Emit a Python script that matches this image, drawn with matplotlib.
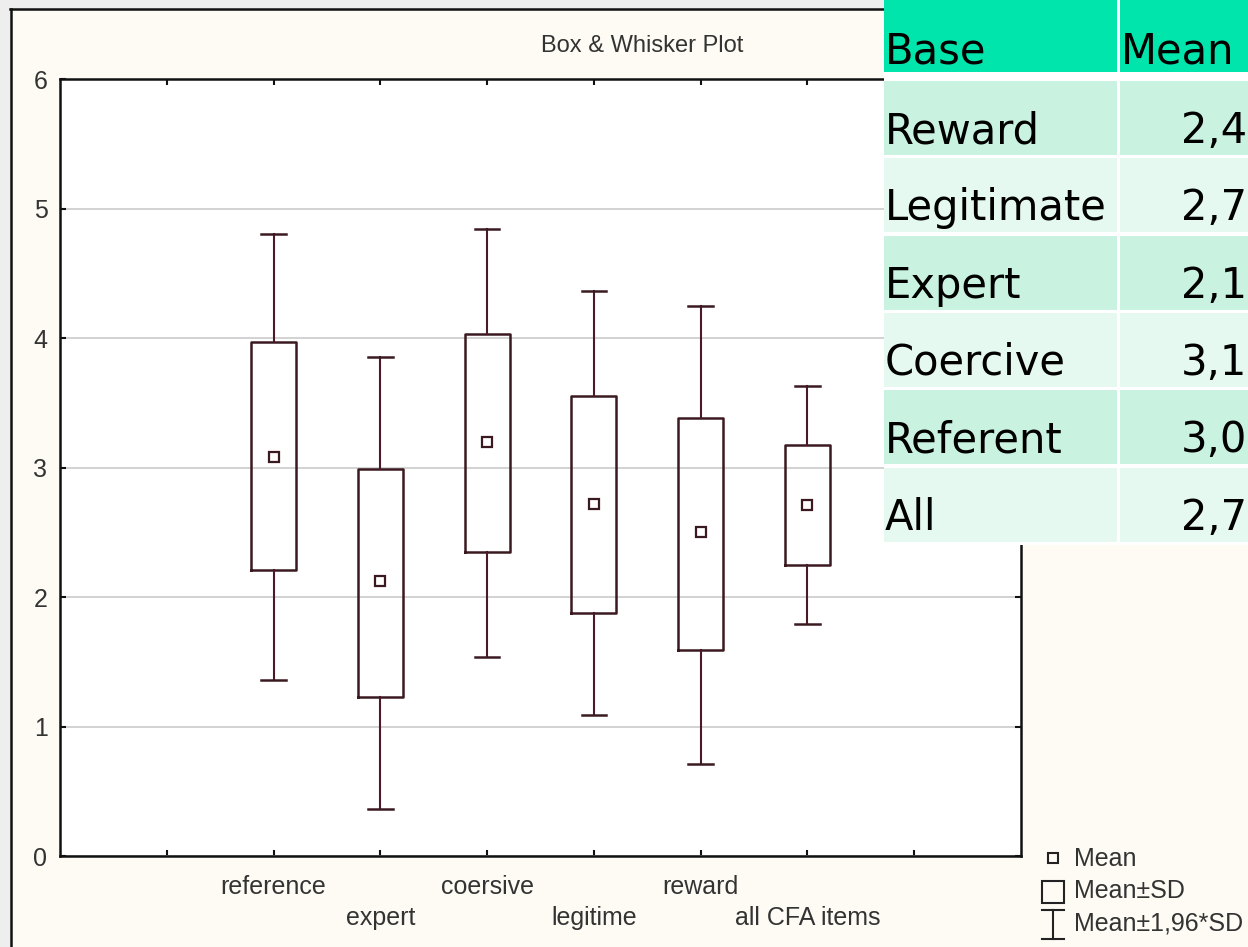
import matplotlib.pyplot as plt
from matplotlib.patches import Rectangle

# ---- data ----
groups = ['reference', 'expert', 'coersive', 'legitime', 'reward', 'all CFA items']
means = [3.08, 2.12, 3.20, 2.72, 2.50, 2.71]
sd_lo = [2.21, 1.23, 2.35, 1.88, 1.59, 2.25]
sd_hi = [3.97, 2.99, 4.03, 3.55, 3.38, 3.17]
ci_lo = [1.36, 0.36, 1.54, 1.09, 0.71, 1.79]
ci_hi = [4.80, 3.85, 4.84, 4.36, 4.25, 3.63]

table_base = ['Reward', 'Legitimate', 'Expert', 'Coercive', 'Referent', 'All']
table_mean = ['2,4', '2,7', '2,1', '3,1', '3,0', '2,7']
legend_txt = ['Mean', 'Mean\u00b1SD', 'Mean\u00b11,96*SD']

W, H = 1248, 947
line_c = '#3a1a20'
txt_c = '#333333'
font = 'Liberation Sans'

fig = plt.figure(figsize=(W / 100, H / 100), dpi=100, facecolor='#eeeeee')

# background / window frame
bg = fig.add_axes([0, 0, 1, 1], zorder=0)
bg.set_xlim(0, W)
bg.set_ylim(H, 0)
bg.axis('off')
bg.add_patch(Rectangle((11, 9), W - 11, H - 9, facecolor='#fdfbf3', edgecolor='none'))
bg.plot([10, W], [9, 9], color='#111111', lw=1.8)
bg.plot([11, 11], [9, H], color='#111111', lw=1.8)
bg.text(642, 46, 'Box & Whisker Plot', ha='center', va='center',
        fontsize=17, color=txt_c, family=font)

# ---- main plot ----
ax = fig.add_axes([60 / W, 1 - 856 / H, 961 / W, 777 / H], zorder=1)
ax.set_facecolor('white')

stats = []
for g, m, lo, hi, wl, wh in zip(groups, means, sd_lo, sd_hi, ci_lo, ci_hi):
    stats.append(dict(label=g, mean=m, med=m, q1=lo, q3=hi, whislo=wl, whishi=wh))

ax.bxp(stats, positions=range(2, 8), widths=0.42, capwidths=0.23,
       showmeans=True, showfliers=False,
       boxprops=dict(color=line_c, linewidth=1.8),
       whiskerprops=dict(color='#4a1a26', linewidth=1.5),
       capprops=dict(color=line_c, linewidth=1.8),
       medianprops=dict(visible=False),
       meanprops=dict(marker='s', markersize=7, markerfacecolor='white',
                      markeredgecolor=line_c, markeredgewidth=1.6))

ax.set_xlim(0, 9)
ax.set_ylim(0, 6)
ax.set_xticks(range(1, 9))
xlabels = [''] + [g if i % 2 == 0 else '\n' + g for i, g in enumerate(groups)] + ['']
ax.set_xticklabels(xlabels, fontsize=18, color=txt_c, family=font, linespacing=1.35)
ax.set_yticks(range(0, 7))
ax.set_yticklabels([str(v) for v in range(0, 7)], fontsize=18, color=txt_c, family=font)
ax.tick_params(axis='both', direction='in', length=4, width=1.5, color='#111111',
               top=True, right=True)
ax.tick_params(axis='x', pad=14)
ax.tick_params(axis='y', pad=9)
ax.yaxis.grid(True, color='#cfcfcf', linewidth=1.3)
ax.set_axisbelow(True)
for s in ax.spines.values():
    s.set_linewidth(1.8)
    s.set_color('#111111')

# ---- overlay: legend + table ----
top = fig.add_axes([0, 0, 1, 1], zorder=2)
top.set_xlim(0, W)
top.set_ylim(H, 0)
top.axis('off')
top.patch.set_alpha(0)

# legend
top.plot(1053, 858, 's', ms=7, mfc='none', mec='#222222', mew=1.5)
top.add_patch(Rectangle((1042, 881), 22, 22, facecolor='none', edgecolor='#222222', lw=1.5))
top.plot([1053, 1053], [910, 939], color='#222222', lw=1.5)
top.plot([1042, 1064], [910, 910], color='#222222', lw=1.5)
top.plot([1042, 1064], [939, 939], color='#222222', lw=1.5)
for yy, t in zip([859, 891, 923], legend_txt):
    top.text(1074, yy, t, ha='left', va='center', fontsize=18, color=txt_c, family=font)

# table
top.add_patch(Rectangle((884, 0), W - 884, 545, facecolor='white', edgecolor='none'))
top.add_patch(Rectangle((884, 0), 233, 72, facecolor='#00e5ab', edgecolor='none'))
top.add_patch(Rectangle((1120, 0), W - 1120, 72, facecolor='#00e5ab', edgecolor='none'))
top.text(885, 63, 'Base', ha='left', va='baseline', fontsize=30, color='black')
top.text(1121, 63, 'Mean', ha='left', va='baseline', fontsize=30, color='black')
for i, (b, m) in enumerate(zip(table_base, table_mean)):
    y0 = 81 + 77.3 * i
    fc = '#c9f3e0' if i % 2 == 0 else '#e6f9f0'
    top.add_patch(Rectangle((884, y0), 233, 74, facecolor=fc, edgecolor='none'))
    top.add_patch(Rectangle((1120, y0), W - 1120, 74, facecolor=fc, edgecolor='none'))
    top.text(885, y0 + 62, b, ha='left', va='baseline', fontsize=30, color='black')
    top.text(1247, y0 + 62, m, ha='right', va='baseline', fontsize=30, color='black')

fig.savefig('out.png', dpi=100, facecolor=fig.get_facecolor())
